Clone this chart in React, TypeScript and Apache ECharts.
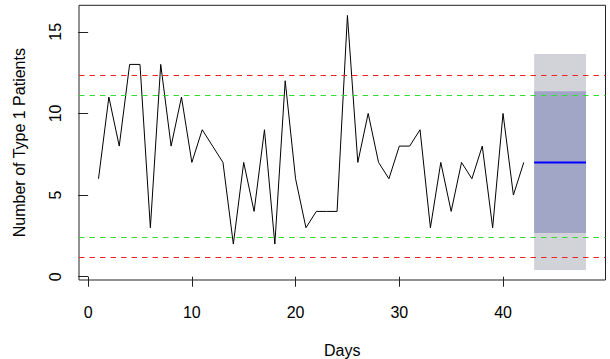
import React, { useEffect, useRef } from "react";
import * as echarts from "echarts";

const patients = [6, 11, 8, 13, 13, 3, 13, 8, 11, 7, 9, 8, 7, 2, 7, 4, 9, 2, 12, 6, 3, 4, 4, 4, 16, 7, 10, 7, 6, 8, 8, 9, 3, 7, 4, 7, 6, 8, 3, 10, 5, 7];
const xTicks = [0, 10, 20, 30, 40];
const yTicks = [0, 5, 10, 15];
const redLimits = [1.19, 12.35];
const greenLimits = [2.41, 11.1];
const forecastDays = [43, 48];
const outerBand = [0.41, 13.64];
const innerBand = [2.68, 11.35];
const forecastMean = 7;

const FONT = "Liberation Sans, Arial, Helvetica, sans-serif";

export default function App() {
  const ref = useRef<HTMLDivElement>(null);
  useEffect(() => {
    if (!ref.current) return;
    const chart = echarts.init(ref.current, null, { renderer: "svg" });
    const bandColors = ["#d2d2d9", "#a2a6c6"];
    chart.setOption({
      animation: false,
      textStyle: { fontFamily: FONT },
      grid: {
        left: 79,
        right: 4.5,
        top: 5.3,
        bottom: 79,
        show: true,
        outerBoundsMode: "none",
        containLabel: false,
        borderColor: "#222",
        borderWidth: 1,
        backgroundColor: "transparent",
      },
      xAxis: {
        type: "value",
        min: -0.88,
        max: 49.88,
        name: "Days",
        nameLocation: "middle",
        nameGap: 62,
        nameTextStyle: { fontSize: 16, color: "#000", fontFamily: FONT },
        axisLine: { show: false },
        splitLine: { show: false },
        axisTick: { show: true, inside: false, length: 10, customValues: xTicks, lineStyle: { color: "#222" } },
        axisLabel: { customValues: xTicks, fontSize: 16, color: "#000", margin: 24, fontFamily: FONT },
      },
      yAxis: {
        type: "value",
        min: -0.2,
        max: 16.62,
        name: "Number of Type 1 Patients",
        nameLocation: "middle",
        nameGap: 52,
        nameRotate: 90,
        nameTextStyle: { fontSize: 16, color: "#000", fontFamily: FONT },
        axisLine: { show: false },
        splitLine: { show: false },
        axisTick: { show: true, inside: false, length: 10, customValues: yTicks, lineStyle: { color: "#222" } },
        axisLabel: { customValues: yTicks, fontSize: 16, color: "#000", rotate: 90, margin: 16, fontFamily: FONT },
      },
      series: [
        {
          type: "custom",
          z: 1,
          silent: true,
          encode: { x: [0, 1], y: [2, 3] },
          data: [
            [forecastDays[0], forecastDays[1], outerBand[0], outerBand[1]],
            [forecastDays[0], forecastDays[1], innerBand[0], innerBand[1]],
          ],
          renderItem: (params: any, api: any) => {
            const p0 = api.coord([api.value(0), api.value(3)]);
            const p1 = api.coord([api.value(1), api.value(2)]);
            return {
              type: "rect",
              shape: { x: p0[0], y: p0[1], width: p1[0] - p0[0], height: p1[1] - p0[1] },
              style: { fill: bandColors[params.dataIndex] },
            };
          },
        },
        {
          type: "line",
          z: 2,
          silent: true,
          symbol: "none",
          data: [
            [forecastDays[0], forecastMean],
            [forecastDays[1], forecastMean],
          ],
          lineStyle: { color: "#0000ff", width: 2 },
        },
        {
          type: "line",
          z: 3,
          silent: true,
          symbol: "none",
          data: patients.map((v, i) => [i + 1, v]),
          lineStyle: { color: "#000", width: 1 },
          markLine: {
            silent: true,
            symbol: "none",
            label: { show: false },
            data: [
              ...redLimits.map((v) => ({ yAxis: v, lineStyle: { color: "#ee2222", type: [5.5, 5], width: 1 } })),
              ...greenLimits.map((v) => ({ yAxis: v, lineStyle: { color: "#33dd33", type: [5.5, 5], width: 1 } })),
            ],
          },
        },
      ],
    });
    return () => chart.dispose();
  }, []);
  return (
    <div
      ref={ref}
      style={{ position: "absolute", left: 0, top: 0, width: 610, height: 359 }}
    />
  );
}
